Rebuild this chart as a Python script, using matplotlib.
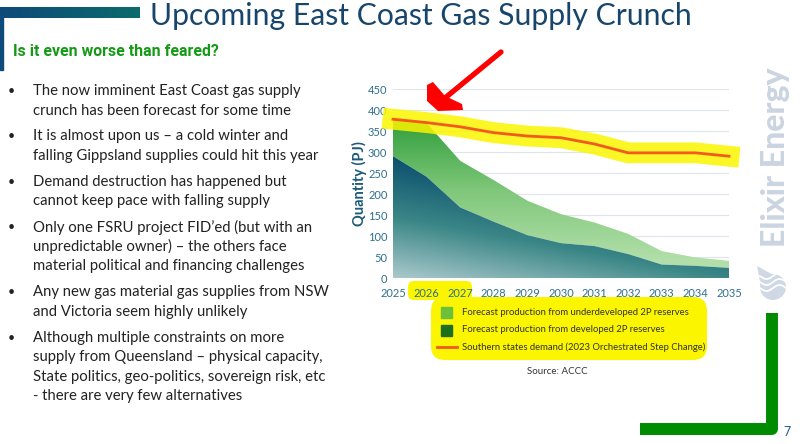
import numpy as np
import matplotlib.pyplot as plt
from matplotlib.colors import LinearSegmentedColormap
from matplotlib.patches import FancyBboxPatch, Polygon, Rectangle, Circle

plt.rcParams['font.family'] = ['Lato', 'DejaVu Sans']

# dados (PJ)
anos = [2025, 2026, 2027, 2028, 2029, 2030, 2031, 2032, 2033, 2034, 2035]
desenvolvido = [290, 241, 168, 134, 102, 83, 76, 57, 32, 29, 24]
total = [382, 369, 279, 233, 184, 152, 132, 105, 64, 49, 41]
demanda = [378, 370, 360, 346, 338, 334, 319, 298, 298, 298, 290]
yticks = [0, 50, 100, 150, 200, 250, 300, 350, 400, 450]

titulo = 'Upcoming East Coast Gas Supply Crunch'
subtitulo = 'Is it even worse than feared?'
bullets = [
    ['The now imminent East Coast gas supply',
     'crunch has been forecast for some time'],
    ['It is almost upon us \u2013 a cold winter and',
     'falling Gippsland supplies could hit this year'],
    ['Demand destruction has happened but',
     'cannot keep pace with falling supply'],
    ['Only one FSRU project FID\u2019ed (but with an',
     'unpredictable owner) \u2013 the others face',
     'material political and financing challenges'],
    ['Any new gas material gas supplies from NSW',
     'and Victoria seem highly unlikely'],
    ['Although multiple constraints on more',
     'supply from Queensland \u2013 physical capacity,',
     'State politics, geo-politics, sovereign risk, etc',
     '- there are very few alternatives'],
]
legenda = ['Forecast production from underdeveloped 2P reserves',
           'Forecast production from developed 2P reserves',
           'Southern states demand (2023 Orchestrated Step Change)']

W, H = 800, 444
fig = plt.figure(figsize=(W / 100, H / 100), dpi=100)

# camada de fundo em pixels
bg = fig.add_axes([0, 0, 1, 1], zorder=0)
bg.set_xlim(0, W)
bg.set_ylim(H, 0)
bg.axis('off')

# barra do topo com degradê
barra = np.linspace(0, 1, 200).reshape(1, -1)
cm_barra = LinearSegmentedColormap.from_list('barra', ['#0e4a7a', '#0b6b6b'])
bg.imshow(barra, cmap=cm_barra, extent=(0, 140, 18, 7), aspect='auto', zorder=1)
bg.add_patch(Rectangle((0, 12), 3, 58, color='#0e4a7a', zorder=1))

bg.text(150, 16, titulo, fontsize=21.7, color='#17456b', va='center', ha='left')
bg.text(13, 52, subtitulo, fontsize=11.4, fontweight='bold', color='#159a15',
        va='center', ha='left', family=['Roboto', 'DejaVu Sans'])

y = 91
for b in bullets:
    bg.text(8, y, '\u2022', fontsize=9, color='#222222', va='center')
    for linha in b:
        bg.text(33, y, linha, fontsize=10.7, color='#222222', va='center')
        y += 19.6
    y += 6.2

# marca d'água Elixir
bg.text(775, 157, 'Elixir Energy', rotation=90, fontsize=23, fontweight='black',
        color='#cbd4e1', ha='center', va='center')
bg.add_patch(Circle((773, 287), 13, color='#cfd8e4', lw=0))
bg.add_patch(Polygon([(757, 266), (786, 282), (762, 292)], closed=True,
                     color='#cfd8e4', lw=0))
for k in range(3):
    xs = np.linspace(760, 786, 30)
    bg.plot(xs, 276 + 6 * k + 3 * np.sin((xs - 760) / 26 * 2 * np.pi),
            color='white', lw=1.3)

# L verde
bg.plot([772, 772, 640], [313, 429, 429], color='#008c00', lw=8.6,
        solid_joinstyle='round', solid_capstyle='butt')
bg.text(787, 432, '7', fontsize=9, color='#1f5a8a', ha='center', va='center')

# marcações amarelas
amarelo = '#fbf500'
bg.add_patch(FancyBboxPatch((410, 283), 60, 15, boxstyle='round,pad=2,rounding_size=6',
                            color=amarelo, lw=0, zorder=1))
bg.add_patch(FancyBboxPatch((434, 300), 270, 57, boxstyle='round,pad=3,rounding_size=14',
                            color=amarelo, lw=0, zorder=1))

# legenda
bg.add_patch(Rectangle((441, 307), 11, 11, color='#6cc03c', zorder=2))
bg.add_patch(Rectangle((441, 325), 11, 11, color='#1d6e1d', zorder=2))
bg.plot([437, 457], [347, 347], color='#f25a1f', lw=2, zorder=2)
for i, txt in enumerate(legenda):
    bg.text(462, 312 + 17.5 * i, txt, fontsize=6.8, color='#333333', va='center', zorder=3)
bg.text(557, 371, 'Source: ACCC', fontsize=7, color='#333333', ha='center', va='center')
bg.text(359, 184, 'Quantity (PJ)', rotation=90, fontsize=10.5, fontweight='bold',
        color='#1b5a78', ha='center', va='center')

# gráfico
x0, x1, y0, y1 = 393, 729, 89, 278
ax = fig.add_axes([x0 / W, 1 - y1 / H, (x1 - x0) / W, (y1 - y0) / H], zorder=1)
ax.set_facecolor('none')
ax.set_xlim(2025, 2035)
ax.set_ylim(0, 450)
ax.set_yticks(yticks)
ax.set_xticks(anos)
ax.tick_params(length=0, labelsize=8, labelcolor='#2f6f8f')
ax.tick_params(axis='y', pad=4)
ax.tick_params(axis='x', pad=7)
for s in ax.spines.values():
    s.set_visible(False)
ax.grid(axis='y', color='#dfe5ec', lw=0.8)
ax.set_axisbelow(True)

gx, gy = np.meshgrid(np.linspace(2025, 2035, 200), np.linspace(0, 450, 300))
cm_dev = LinearSegmentedColormap.from_list('dev', ['#aac9cc', '#3a8686', '#0c4f6e'])
cm_und = LinearSegmentedColormap.from_list('und', ['#b2dfaa', '#7fc77a', '#2f9e3a'])

poly_und = ax.fill_between(anos, desenvolvido, total, facecolor='none', lw=0)
d_und = np.clip((gy - 40) / 340, 0, 1)
im = ax.imshow(d_und, cmap=cm_und, extent=(2025, 2035, 0, 450), origin='lower',
               aspect='auto', zorder=1, vmin=0, vmax=1)
im.set_clip_path(poly_und.get_paths()[0], transform=ax.transData)

poly_dev = ax.fill_between(anos, 0, desenvolvido, facecolor='none', lw=0)
d_dev = np.clip(gy / 290 + 0.5 * (gx - 2025) / 10, 0, 1)
im2 = ax.imshow(d_dev, cmap=cm_dev, extent=(2025, 2035, 0, 450), origin='lower',
                aspect='auto', zorder=1, vmin=0, vmax=1)
im2.set_clip_path(poly_dev.get_paths()[0], transform=ax.transData)

ax.plot(anos, demanda, color=amarelo, lw=15, alpha=0.85, zorder=2,
        solid_capstyle='projecting', clip_on=False)
ax.plot(anos, demanda, color='#f25a1f', lw=2, zorder=3, clip_on=False)

# seta vermelha por cima
top = fig.add_axes([0, 0, 1, 1], zorder=5)
top.set_xlim(0, W)
top.set_ylim(H, 0)
top.axis('off')
top.plot([501, 445], [52, 98], color='#ff0000', lw=3.8, solid_capstyle='round')
top.add_patch(Polygon([(427, 85), (433, 82), (445, 96), (462, 104), (463, 110),
                       (438, 111), (427, 101)], closed=True, color='#ff0000', lw=0))

fig.savefig('out.png', dpi=100)
